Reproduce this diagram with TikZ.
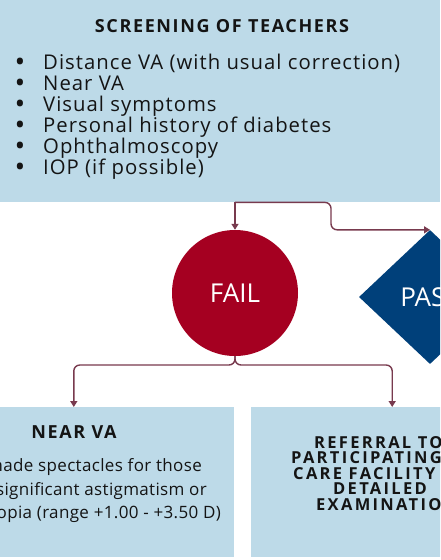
\documentclass[tikz,border=0pt]{standalone}
\usepackage{fontspec}
\setmainfont{Open Sans}
\usetikzlibrary{shapes.geometric,arrows.meta}
\definecolor{lblue}{RGB}{189,218,232}
\definecolor{fred}{RGB}{165,0,33}
\definecolor{pblue}{RGB}{0,64,122}
\definecolor{arc}{RGB}{120,58,78}
\definecolor{ink}{RGB}{20,20,20}
\begin{document}
\begin{tikzpicture}[x=1pt,y=-1pt,
  box/.style={fill=lblue, draw=none, inner sep=0pt, rectangle},
  conn/.style={draw=arc, line width=1.4pt, rounded corners=6pt, -{Triangle[length=6pt,width=7pt]}},
  txt/.style={inner sep=0pt, text=ink},
  head/.style={txt, font=\bfseries\fontsize{18}{20}\selectfont\addfontfeature{LetterSpace=9}},
  itm/.style={txt, font=\fontsize{20.3}{24}\selectfont\addfontfeature{LetterSpace=5}},
  bul/.style={txt, font=\bfseries\fontsize{22}{24}\selectfont},
  body/.style={txt, font=\fontsize{17}{20}\selectfont\addfontfeature{LetterSpace=2}},
  refl/.style={txt, font=\bfseries\fontsize{16.5}{18}\selectfont\addfontfeature{LetterSpace=14}},
  shapetxt/.style={text=white, inner sep=0pt, font=\fontsize{26}{30}\selectfont}]
\useasboundingbox (0,0) rectangle (440,560);
\clip (0,0) rectangle (440,560);
\fill[white] (0,0) rectangle (440,560);
% top box
\node[box, minimum width=440pt, minimum height=202pt, anchor=north west] (top) at (0,0) {};
\node[head, anchor=base] (title) at (222,32) {SCREENING OF TEACHERS};
\foreach \t [count=\i] in {{Distance VA (with usual correction)},{Near VA},{Visual symptoms},{Personal history of diabetes},{Ophthalmoscopy},{IOP (if possible)}}{
  \node[bul, anchor=base] (d\i) at (20,{48.5+21*\i}) {\textbullet};
  \node[itm, anchor=base west] (t\i) at (43,{48.5+21*\i}) {\t};
}
% decision shapes
\node[circle, fill=fred, minimum size=126pt, shapetxt] (fail) at (235,293) {FAIL};
\node[diamond, fill=pblue, minimum width=142pt, minimum height=134pt, shapetxt] (pass) at (430,297) {PASS};
% bottom boxes
\node[box, minimum width=320pt, minimum height=150pt, anchor=north east] (nearva) at (234,407) {};
\node[head, anchor=base] (nvt) at (74,438) {NEAR VA};
\node[body, anchor=base east] (nb1) at (202,471) {made spectacles for those};
\node[body, anchor=base east] (nb2) at (207,495) {significant astigmatism or};
\node[body, anchor=base east] (nb3) at (221,518) {opia (range +1.00 - +3.50 D)};
\node[box, minimum width=282pt, minimum height=150pt, anchor=north west] (ref) at (251,407) {};
\node[refl, anchor=base west] (r1) at (314,448) {REFERRAL TO};
\node[refl, anchor=base west] (r2) at (291,463.5) {PARTICIPATING};
\node[refl, anchor=base west] (r3) at (293,479) {CARE FACILITY};
\node[refl, anchor=base west] (r4) at (333,494.5) {DETAILED};
\node[refl, anchor=base west] (r5) at (316,510) {EXAMINATION};
% connectors
\coordinate (j1) at (331,217);
\coordinate (sp) at (235,365);
\draw[conn] (top.south -| fail.north) -- (fail.north);
\draw[conn] (top.south -| fail.north) -| (j1) |- (pass.north);
\draw[conn] (fail.south) -- (sp) -| (nearva.north);
\draw[conn] (fail.south) -- (sp) -| (ref.north);
\end{tikzpicture}
\end{document}
